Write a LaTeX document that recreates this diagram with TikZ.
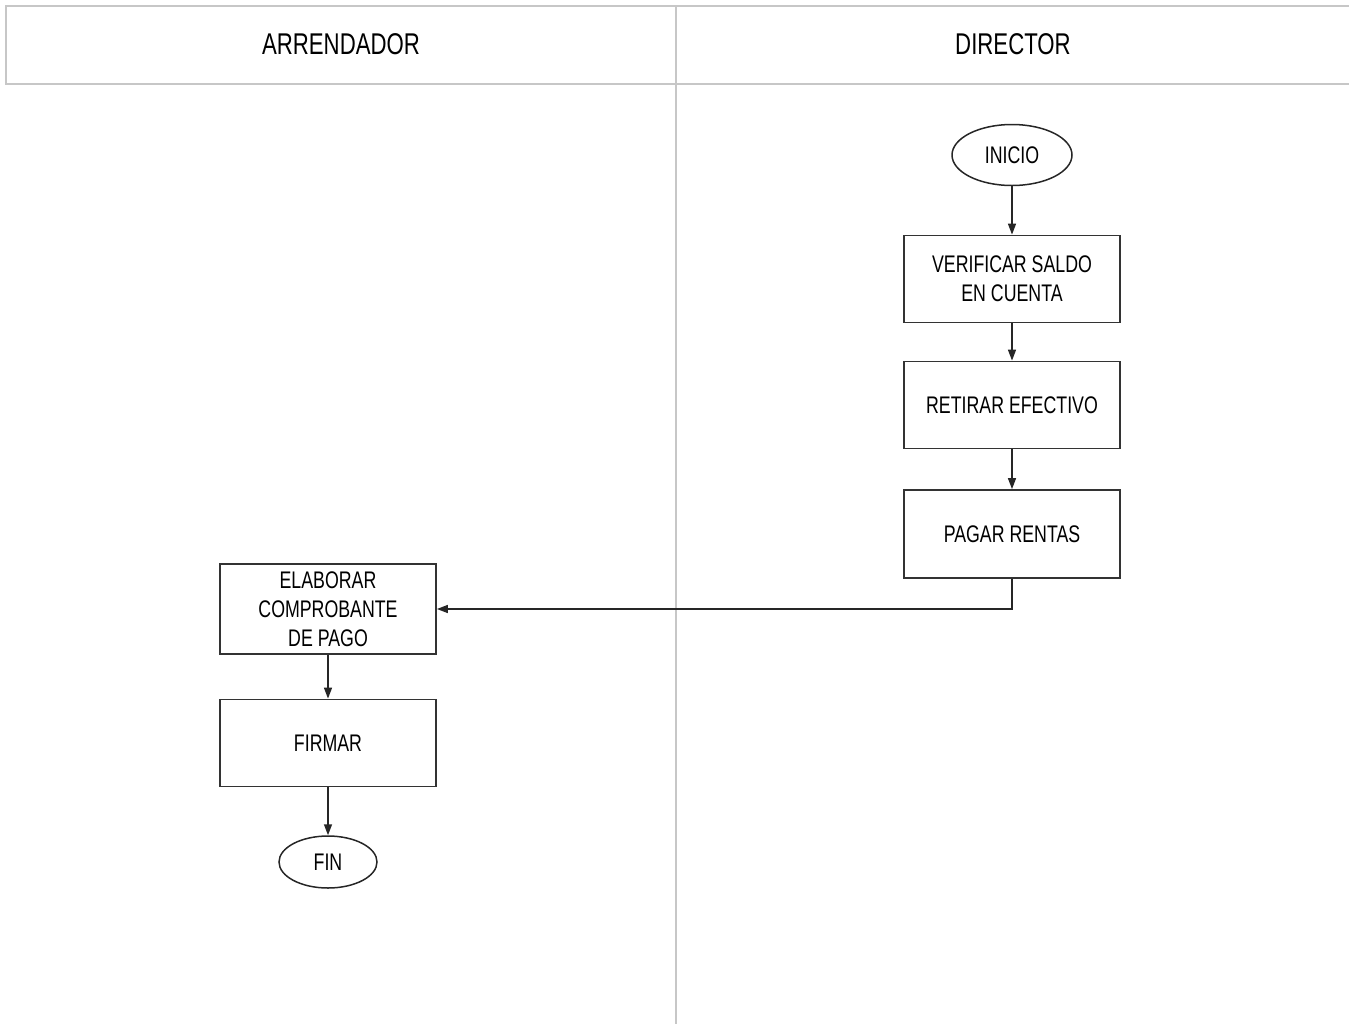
\documentclass[tikz,border=0pt]{standalone}
\usepackage{fontspec}
\setmainfont[FakeStretch=0.74]{Liberation Sans}
\usetikzlibrary{arrows.meta,shapes.geometric,positioning}

\begin{document}
\begin{tikzpicture}[x=1pt,y=-1pt]
\tikzset{
  lanetitle/.style={font=\fontsize{30}{34}\selectfont,inner sep=0pt},
  lanerule/.style={draw=black!22,line width=2.6pt},
  procbox/.style={rectangle,draw=black!80,line width=1.8pt,minimum width=216pt,minimum height=87pt,
    align=center,inner sep=2pt,font=\fontsize{24}{29}\selectfont},
  terminal/.style={ellipse,draw=black!85,line width=1.5pt,inner sep=0pt,font=\fontsize{24}{29}\selectfont},
  flow/.style={-{Triangle[length=11pt,width=8pt]},line width=1.5pt,black!85}
}
\useasboundingbox (0,0) rectangle (1349,1023);
% swimlanes
\draw[lanerule] (1352,6) -- (6,6) -- (6,84) -- (1352,84);
\draw[lanerule] (676,6) -- (676,1025);
\node[lanetitle] (n_arr) at (341,44) {ARRENDADOR};
\node[lanetitle] (n_dir) at (1013,44) {DIRECTOR};
% director
\node[terminal,minimum width=120pt,minimum height=61pt] (n_inicio) at (1012,155) {INICIO};
\node[procbox] (n_verif) at (1012,279) {VERIFICAR SALDO\\EN CUENTA};
\node[procbox] (n_retir) at (1012,405) {RETIRAR EFECTIVO};
\node[procbox,minimum height=88pt] (n_pagar) at (1012,534) {PAGAR RENTAS};
% arrendador
\node[procbox,minimum height=90pt] (n_elab) at (328,609) {ELABORAR\\COMPROBANTE\\DE PAGO};
\node[procbox] (n_firm) at (328,743) {FIRMAR};
\node[terminal,minimum width=98pt,minimum height=52pt] (n_fin) at (328,862) {FIN};
\draw[flow] (n_inicio) -- (n_verif);
\draw[flow] (n_verif) -- (n_retir);
\draw[flow] (n_retir) -- (n_pagar);
\draw[flow] (n_pagar.south) |- (n_elab.east);
\draw[flow] (n_elab) -- (n_firm);
\draw[flow] (n_firm) -- (n_fin);
\end{tikzpicture}
\end{document}
